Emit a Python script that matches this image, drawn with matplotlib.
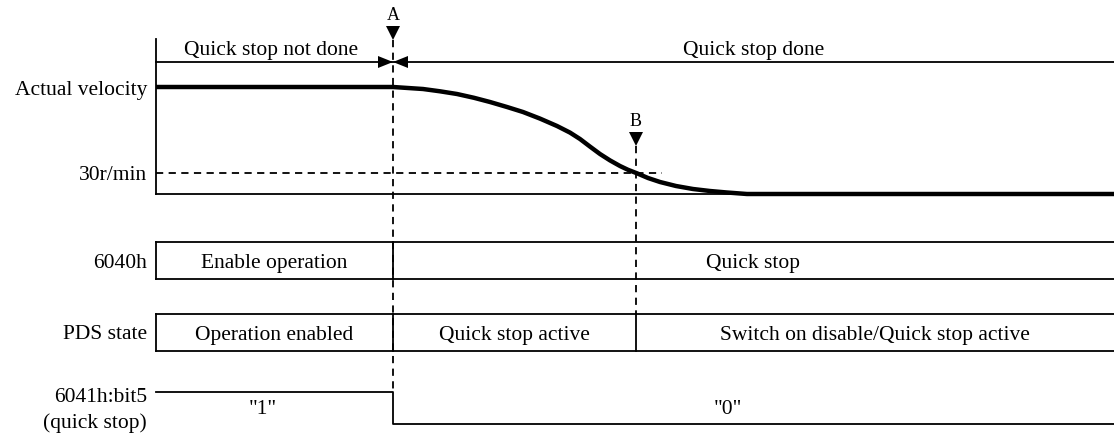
import numpy as np
import matplotlib.pyplot as plt

plt.rcParams['font.family'] = ['Liberation Serif', 'DejaVu Serif']

# event positions along the time axis (pixel-like units)
t_start = 156
t_A = 393
t_B = 636
t_end = 1114

# actual velocity curve (x, y with y pointing down)
vel_x = [156, 393, 408, 423, 440, 457, 474, 490, 507, 523, 540, 557, 570, 580, 590, 600, 610,
         620, 628, 637, 648, 660, 676, 693, 710, 727, 747, 1114]
vel_y = [88, 88, 89, 90, 92.3, 95, 98.8, 103, 108, 113, 119.6, 127, 133.6, 140, 147.6, 155, 161.4,
         167, 170.8, 174.3, 179, 183, 187, 190, 192, 193.5, 195, 195]

# row levels
y_axis_top = 40
y_arrow = 63
y_30 = 174
y_base = 195
row_6040 = (243, 280)
row_pds = (315, 352)
bit5_hi = 393
bit5_lo = 425

row_labels = ["Actual velocity", "30r/min", "6040h", "PDS state", "6041h:bit5", "(quick stop)"]
row_label_y = [88, 174, 262, 333, 396, 421]

ctrl_word = [("Enable operation", t_start, t_A), ("Quick stop", t_A, t_end)]
pds_state = [("Operation enabled", t_start, t_A), ("Quick stop active", t_A, t_B),
             ("Switch on disable/Quick stop active", t_B, t_end)]
bit5_text = [('"1"', 263), ('"0"', 728)]

fig = plt.figure(figsize=(11.14, 4.35), dpi=100)
ax = fig.add_axes([0, 0, 1, 1])
ax.set_xlim(0, 1114)
ax.set_ylim(435, 0)
ax.axis('off')

fs = 15.5
lw = 1.3
dy = 2  # small nudge so text centres sit like the reference

# velocity panel
ax.plot([t_start, t_start], [y_axis_top, y_base], color='black', lw=lw)
ax.plot([t_start, t_end], [y_base, y_base], color='black', lw=lw)
ax.plot([t_start, t_end], [y_arrow, y_arrow], color='black', lw=lw)
ax.plot(vel_x, vel_y, color='black', lw=3.2, solid_capstyle='butt', solid_joinstyle='round')
ax.plot([t_start, 662], [y_30, y_30], color='black', lw=lw, ls=(0, (4, 3)))

# arrows meeting at A
ah, aw = 15, 6
ax.fill([t_A, t_A - ah, t_A - ah], [y_arrow, y_arrow - aw, y_arrow + aw], color='black', lw=0)
ax.fill([t_A, t_A + ah, t_A + ah], [y_arrow, y_arrow - aw, y_arrow + aw], color='black', lw=0)
ax.text(271, 48 + dy, "Quick stop not done", ha='center', va='center', fontsize=fs)
ax.text((t_A + t_end) / 2, 48 + dy, "Quick stop done", ha='center', va='center', fontsize=fs)

# markers A and B
for t, ytop, lab, ybot in [(t_A, 27, "A", bit5_hi), (t_B, 133, "B", row_pds[0])]:
    ax.fill([t - 7, t + 7, t], [ytop, ytop, ytop + 14], color='black', lw=0)
    ax.text(t, ytop - 11, lab, ha='center', va='center', fontsize=13)
    ax.plot([t, t], [ytop + 14, ybot], color='black', lw=lw, ls=(0, (4, 3)))

# boxed state rows
for segs, (y0, y1) in [(ctrl_word, row_6040), (pds_state, row_pds)]:
    ax.plot([t_start, t_end], [y0, y0], color='black', lw=lw)
    ax.plot([t_start, t_end], [y1, y1], color='black', lw=lw)
    for text, a, b in segs:
        ax.plot([a, a], [y0, y1], color='black', lw=lw)
        ax.text((a + b) / 2, (y0 + y1) / 2 + dy, text, ha='center', va='center', fontsize=fs)

# 6041h bit5 signal
ax.plot([t_start, t_A, t_A, t_end], [bit5_hi, bit5_hi, bit5_lo, bit5_lo], color='black', lw=lw)
for text, x in bit5_text:
    ax.text(x, 408 + dy, text, ha='center', va='center', fontsize=fs)

for lab, y in zip(row_labels, row_label_y):
    ax.text(147, y + dy, lab, ha='right', va='center', fontsize=fs)

fig.savefig("out.png", dpi=100)
